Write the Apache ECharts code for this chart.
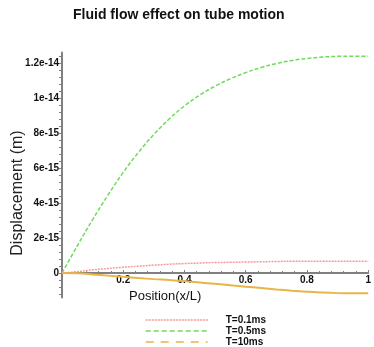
<!DOCTYPE html>
<html>
<head>
<meta charset="utf-8">
<script src="https://cdn.jsdelivr.net/npm/echarts@6/dist/echarts.min.js"></script>
<style>
  html, body { margin: 0; padding: 0; background: #fff; }
  #chart { width: 374px; height: 347px; }
</style>
</head>
<body>
<div id="chart"></div>
<script>
// position along the tube (x/L)
var positions = [0, 0.05, 0.1, 0.15, 0.2, 0.25, 0.3, 0.35, 0.4, 0.45, 0.5,
  0.55, 0.6, 0.65, 0.7, 0.75, 0.8, 0.85, 0.9, 0.95, 1]
// displacement, in units of 1e-15 m
var disp01 = [0, 0.07, 0.18, 0.26, 0.33, 0.39, 0.45, 0.5, 0.54, 0.57, 0.6,
  0.61, 0.63, 0.64, 0.66, 0.67, 0.67, 0.67, 0.67, 0.67, 0.67]
var disp05 = [0, 1.55, 3.05, 4.45, 5.75, 6.9, 7.92, 8.8, 9.55, 10.17, 10.68,
  11.1, 11.45, 11.74, 11.97, 12.14, 12.26, 12.34, 12.38, 12.39, 12.39]
var disp10 = [0, -0.02, -0.08, -0.15, -0.22, -0.29, -0.35, -0.4, -0.46, -0.54, -0.62,
  -0.7, -0.78, -0.86, -0.94, -1.01, -1.07, -1.12, -1.15, -1.16, -1.16]
var seriesNames = ['T=0.1ms', 'T=0.5ms', 'T=10ms']
var yTickValues = [0, 2, 4, 6, 8, 10, 12]
var yTickLabels = ['0', '2e-15', '4e-15', '6e-15', '8e-15', '1e-14', '1.2e-14']
var xTickLabels = ['', '0.2', '0.4', '0.6', '0.8', '1']

var yMin = -1.4, yMax = 12.6
var gridTop = 52.5, gridBottom = 49.5, chartH = 347

function pairs(ys) {
  return positions.map(function (x, i) { return [x, ys[i]] })
}

// minor ticks on the y axis every 0.4e-15
var yMinor = []
for (var k = -3; k <= 31; k++) yMinor.push(Math.round(k * 4) / 10)

// x axis sits on the zero line: shift it up from the grid bottom
var plotH = chartH - gridTop - gridBottom
var xAxisOffset = -plotH * (0 - yMin) / (yMax - yMin)

var myChart = echarts.init(document.getElementById('chart'))
var bold10 = { fontFamily: 'Liberation Sans', fontWeight: 'bold', fontSize: 10, color: '#111' }

var option = {
  animation: false,
  title: [{
    text: 'Fluid flow effect on tube motion',
    left: 73, top: 8, padding: 0,
    textStyle: { fontFamily: 'Liberation Sans', fontWeight: 'bold', fontSize: 14, color: '#111' }
  }, {
    text: 'Position(x/L)',
    left: 129, top: 290, padding: 0,
    textStyle: { fontFamily: 'Liberation Sans', fontWeight: 'normal', fontSize: 13, color: '#111' }
  }],
  graphic: [{
    type: 'text',
    x: 10, y: 193,
    rotation: Math.PI / 2,
    style: {
      text: 'Displacement (m)',
      font: '16px "Liberation Sans"',
      fill: '#222',
      align: 'center',
      verticalAlign: 'top'
    }
  }],
  grid: { left: 62, right: 3, top: gridTop, bottom: gridBottom },
  legend: {
    orient: 'vertical',
    left: 145, top: 315, padding: 0,
    itemWidth: 62, itemHeight: 9, itemGap: 1,
    itemStyle: { opacity: 0 },
    textStyle: Object.assign({ padding: [0, 0, 0, 13] }, bold10),
    data: [
      { name: seriesNames[0], lineStyle: { color: '#f59a9a', width: 1.5, type: [2, 1] } },
      { name: seriesNames[1], lineStyle: { color: '#6edb5c', width: 1.5, type: [5, 3] } },
      { name: seriesNames[2], lineStyle: { color: '#e9b548', width: 1.5, type: [8, 7] } }
    ]
  },
  xAxis: {
    type: 'value',
    min: 0, max: 1, interval: 0.2,
    offset: xAxisOffset,
    axisLine: { onZero: false, lineStyle: { color: '#808080', width: 2 } },
    axisTick: { show: true, inside: true, length: 3, lineStyle: { color: '#808080' } },
    minorTick: { show: true, splitNumber: 5, length: 2, lineStyle: { color: '#808080' } },
    splitLine: { show: false },
    axisLabel: Object.assign({
      margin: 2,
      formatter: function (v) { return xTickLabels[Math.round(v / 0.2)] }
    }, bold10)
  },
  yAxis: {
    type: 'value',
    min: yMin, max: yMax,
    axisLine: { show: true, lineStyle: { color: '#808080', width: 2 } },
    axisTick: { show: true, length: 3, customValues: yMinor, lineStyle: { color: '#808080' } },
    splitLine: { show: false },
    axisLabel: Object.assign({
      margin: 3,
      customValues: yTickValues,
      formatter: function (v) { return yTickLabels[yTickValues.indexOf(Math.round(v))] }
    }, bold10)
  },
  series: [{
    name: seriesNames[0], type: 'line', data: pairs(disp01),
    symbol: 'none', smooth: 0.4,
    lineStyle: { color: '#f59a9a', width: 1.5, type: [2, 1] },
    itemStyle: { color: '#f59a9a' }
  }, {
    name: seriesNames[1], type: 'line', data: pairs(disp05),
    symbol: 'none', smooth: 0.4,
    lineStyle: { color: '#6edb5c', width: 1.5, type: [4, 2] },
    itemStyle: { color: '#6edb5c' }
  }, {
    name: seriesNames[2], type: 'line', data: pairs(disp10),
    symbol: 'none', smooth: 0.4,
    lineStyle: { color: '#e9b548', width: 2 },
    itemStyle: { color: '#e9b548' }
  }]
}

myChart.setOption(option)
window.addEventListener('resize', () => { myChart.resize() })
</script>
</body>
</html>
